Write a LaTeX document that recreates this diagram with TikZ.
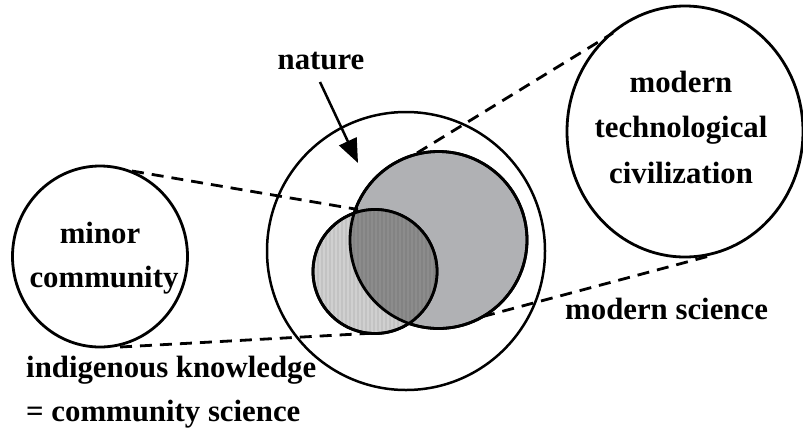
\documentclass[tikz,border=0pt]{standalone}
\usepackage{fontspec}
\setmainfont{Liberation Serif}
\usetikzlibrary{arrows.meta,shapes.geometric}
\definecolor{msgray}{HTML}{B0B1B4}
\definecolor{indgray}{HTML}{D0D0D0}
\definecolor{ovgray}{HTML}{8C8C8C}
\begin{document}
\begin{tikzpicture}[x=1pt,y=-1pt,
  ring/.style={draw=black, line width=2.8pt, inner sep=0pt, outer sep=0pt},
  lbl/.style={font=\fontsize{30.8}{36}\selectfont\bfseries, inner sep=0pt, anchor=base},
  dashline/.style={dash pattern=on 12pt off 8pt, line width=2.8pt},
]
\useasboundingbox (0,0) rectangle (803,432);
% big nature circle
\node[ring, circle, line width=2.5pt, minimum size=278pt] (nat) at (406,251) {};
% modern science and indigenous knowledge
\node[ring, circle, fill=msgray, minimum size=177pt] (ms) at (438.5,240) {};
\node[ring, circle, fill=indgray, minimum size=124pt] (ind) at (375,271.5) {};
\begin{scope}
  \clip (ind.center) circle[radius=62pt];
  \fill[ovgray] (ms.center) circle[radius=88.5pt];
  \foreach \i in {0,...,31} {
    \fill[black, opacity=0.06] (313+4*\i,205) rectangle ++(1.8,135);
  }
\end{scope}
\draw[line width=2.8pt] (ms.center) circle[radius=88.5pt];
\draw[line width=2.8pt] (ind.center) circle[radius=62pt];
% minor community and modern technological civilization
\node[ring, ellipse, minimum width=175pt, minimum height=181pt] (minor) at (100,256.5) {};
\node[ring, ellipse, minimum width=236pt, minimum height=251pt] (tech) at (685,131.5) {};
% dashed connectors
\draw[dashline] ([shift={(32,-85.5)}]minor.center) -- ([shift={(-17,-62)}]ind.center);
\draw[dashline] ([shift={(20,90.5)}]minor.center) -- ([shift={(-5,61.8)}]ind.center);
\draw[dashline] ([shift={(-21.5,-87)}]ms.center) -- ([shift={(-72,-98.5)}]tech.center);
\draw[dashline] ([shift={(44.5,76.5)}]ms.center) -- ([shift={(28,123.5)}]tech.center);
% labels
\node[lbl] (naturelbl) at (321,69) {nature};
\node[lbl] (minor1) at (100,243) {minor};
\node[lbl] (minor2) at (104,287) {community};
\node[lbl] (tech1) at (681,92) {modern};
\node[lbl] (tech2) at (681,137) {technological};
\node[lbl] (tech3) at (681,183) {civilization};
\node[lbl, anchor=base west] (mslbl) at (565,319) {modern science};
\node[lbl, anchor=base west] (indlbl1) at (26,377) {indigenous knowledge};
\node[lbl, anchor=base west] (indlbl2) at (26,421) {= community science};
% arrow
\coordinate (natTail) at (320,82);
\coordinate (natTip) at (358,163);
\draw[line width=2.5pt, -{Triangle[length=24pt,width=19pt]}] (natTail) -- (natTip);
\end{tikzpicture}
\end{document}
